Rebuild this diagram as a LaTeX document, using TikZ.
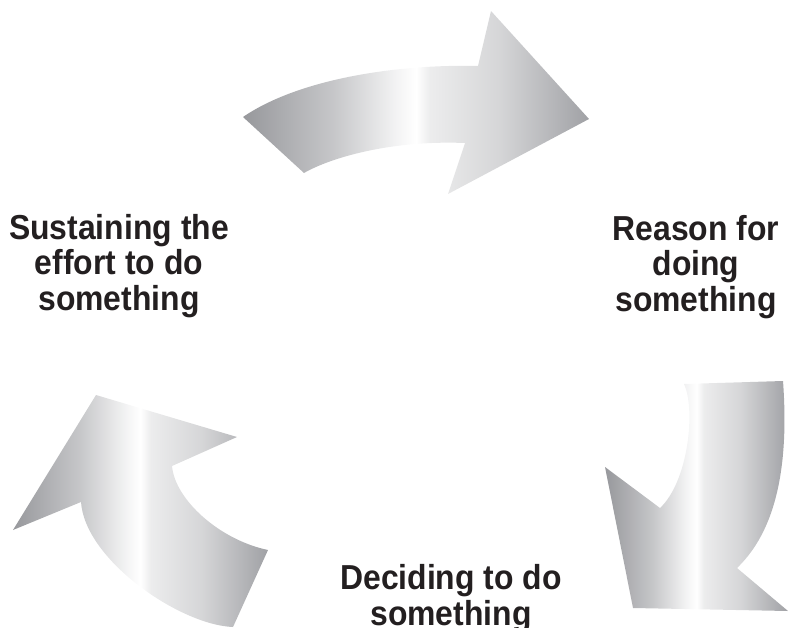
\documentclass[tikz,border=0pt]{standalone}
\usepackage{fontspec}
\newfontfamily\labfont{Liberation Sans}[FakeStretch=0.92]
\definecolor{txt}{HTML}{231F20}
\definecolor{gdark}{HTML}{97989C}
\definecolor{gdarkr}{HTML}{A0A1A5}
\pgfdeclarehorizontalshading{silver}{100bp}{%
  color(0bp)=(gdark); color(25bp)=(gdark); color(38bp)=(gdark!55!white);
  color(47bp)=(gdark!12!white); color(50bp)=(white); color(52bp)=(gdark!18!white);
  color(62bp)=(gdark!40!white); color(75bp)=(gdarkr); color(100bp)=(gdarkr)}
\tikzset{
  arrowshape/.style={shading=silver, draw=none},
  label/.style={font=\labfont\bfseries\fontsize{26}{26.6}\selectfont, text=txt, align=center, inner sep=0pt, anchor=base}
}
\begin{document}
\begin{tikzpicture}[x=0.75pt,y=-0.75pt]
\useasboundingbox (0,0) rectangle (789,628);
% top arrow
\shade[arrowshape] (243,117) -- (304,173) .. controls (330,158) and (390,140) .. (465,143)
  -- (448,194) -- (589,119) -- (491,11) -- (478,66)
  .. controls (400,64) and (300,78) .. (243,117) -- cycle;
% right arrow
\shade[arrowshape] (684,384) -- (783,381) .. controls (788,450) and (782,525) .. (737,568)
  -- (788,611) -- (633,608) -- (605,467) -- (660,508)
  .. controls (688,482) and (696,410) .. (684,384) -- cycle;
% left arrow
\shade[arrowshape] (13,530) -- (96,395) -- (237,437) -- (172,466)
  .. controls (175,500) and (220,540) .. (268,550) -- (233,627)
  .. controls (180,625) and (85,560) .. (81,502) -- cycle;
\node[label] (sustain) at (119,310) {Sustaining the\\effort to do\\something};
\node[label] (reason) at (696,311) {Reason for\\doing\\something};
\node[label] (decide) at (451,625) {Deciding to do\\something};
\end{tikzpicture}
\end{document}
